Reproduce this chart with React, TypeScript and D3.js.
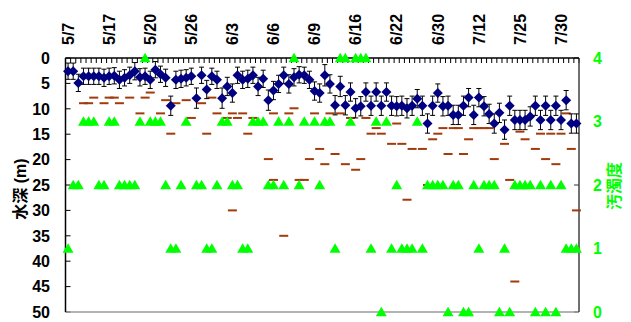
import React from "react";
import * as d3 from "d3";

// ---- data ----
const tickLabels = ["5/7", "5/17", "5/20", "5/26", "6/3", "6/6", "6/9", "6/16", "6/22", "6/30", "7/12", "7/25", "7/30"];
const tickEvery = 8;
const categories: number[] = d3.range(100);

// mean depth (m)
const depthMean: number[] = [
  2.6, 2.6, 4.9, 3.6, 3.6, 3.6, 3.6, 3.9, 3.6, 3.5,
  4.3, 3.9, 3.4, 2.6, 3.8, 3.6, 4.3, 2.3, 3.2, 3.9,
  9.4, 4.3, 4.1, 3.9, 3.6, 7.9, 3.4, 6.2, 3.6, 4.3,
  7.9, 5.6, 6.9, 3.4, 4.3, 4.1, 3.4, 5.6, 4.1, 8.3,
  6.4, 5.1, 3.4, 5.1, 3.8, 3.3, 3.4, 4.3, 6.5, 6.9,
  3.4, 5.1, 9.3, 5.6, 9.3, 6.7, 9.9, 9.5, 6.7, 9.4,
  6.7, 9.4, 6.7, 9.4, 9.5, 9.4, 9.9, 9.4, 8.0, 9.4,
  12.9, 9.4, 6.9, 9.5, 9.4, 11.2, 11.2, 9.4, 7.8, 11.2,
  7.8, 9.5, 11.0, 12.9, 10.8, 14.1, 9.4, 12.2, 12.2, 12.2,
  11.5, 9.4, 12.2, 9.4, 12.2, 9.4, 12.2, 8.3, 12.9, 12.9,
];

// error (m)
const depthErr: number[] = [
  1.6, 1.6, 1.7, 1.6, 1.6, 1.6, 1.6, 1.7, 1.6, 1.6,
  1.7, 1.6, 1.6, 1.7, 1.7, 1.6, 1.7, 1.6, 1.6, 1.7,
  1.9, 1.7, 1.7, 1.6, 1.6, 2.0, 1.6, 1.8, 1.6, 1.7,
  2.0, 1.8, 1.8, 1.6, 1.7, 1.7, 1.6, 1.8, 1.7, 2.0,
  1.8, 1.7, 1.6, 1.8, 1.7, 1.6, 1.6, 1.7, 1.8, 1.8,
  2.1, 1.8, 1.9, 2.0, 1.9, 1.8, 1.9, 1.9, 1.8, 1.9,
  1.8, 1.9, 1.8, 1.9, 1.9, 1.9, 1.9, 1.9, 1.8, 1.9,
  1.9, 1.9, 1.8, 1.9, 1.9, 1.9, 1.9, 1.9, 1.8, 1.9,
  1.8, 1.9, 1.9, 1.9, 1.9, 1.9, 1.9, 1.9, 1.9, 1.9,
  1.9, 1.9, 1.9, 1.9, 1.9, 1.9, 1.9, 1.9, 1.9, 1.9,
];

// secondary depth marks (m)
const depthMark: (number | null)[] = [
  null, null, null, 8.9, 8.9, 7.8, null, 8.9, 7.8, 7.8,
  8.9, null, 7.8, null, 10.9, 7.8, 6.8, null, 10.9, 8.3,
  14.9, 8.9, null, 8.3, 11.8, null, 8.9, 14.9, 7.8, 10.9,
  null, 11.8, 30, 11.8, 10.9, 14.9, 11.8, null, null, 19.9,
  24, null, 35, 10.9, 9.9, 24, 24, 19.9, 10.9, 17.9,
  20.9, 10.9, 18.9, 10.9, 20.9, 11.8, 22, 19.9, 11.8, 14.9,
  13.8, 14.9, null, 16.9, 12.9, 16.9, 27.9, 17.9, null, 17.9,
  25, 16, 14.9, 13.8, 18.9, 13.8, 13.8, 18.9, 16, 13.8,
  13.8, 13.8, 13.8, 19.9, null, 16.9, 24, 44, 14.5, 16,
  null, 17.9, 14.9, 19.9, 14.9, 20.9, 14.9, 10.9, 17.9, 30,
];

// additional marks on a few dates (m)
const depthMark2: (number | null)[] = [
  null, null, null, null, null, null, null, null, null, null,
  null, null, null, null, null, null, null, null, null, null,
  null, null, null, null, null, null, null, null, null, null,
  null, null, 10.9, null, null, null, null, null, null, null,
  10.9, null, null, null, null, null, null, null, null, null,
  null, null, null, null, null, null, null, null, null, null,
  null, null, null, null, null, null, null, null, null, null,
  null, null, null, null, null, null, null, null, null, null,
  null, null, null, null, null, null, null, null, null, null,
  null, null, null, null, null, null, null, null, null, null,
];

// pollution degree (0-4)
const pollution: (number | null)[] = [
  1, 2, 2, 3, 3, 3, 2, 2, 3, 3,
  2, 2, 2, 2, 3, 4, 3, 3, 3, 2,
  1, 1, 2, 3, null, 2, 2, 1, 1, 2,
  3, 3, 2, 2, 1, 1, 3, 3, 3, 2,
  2, 3, 2, 3, 4, 2, 3, null, 3, 2,
  3, 3, 1, 4, 4, 3, 4, 4, 4, 1,
  3, 0, 3, 1, 2, 1, 1, 1, 3, 1,
  2, 2, 2, 2, 0, 2, 2, 0, 0, 2,
  1, 2, 2, 2, 0, 1, 0, 2, 2, 2,
  2, 0, 2, 0, 2, 0, 2, 1, 1, 1,
];

const leftTicks = [0, 5, 10, 15, 20, 25, 30, 35, 40, 45, 50];
const rightTicks = [0, 1, 2, 3, 4];

// ---- layout ----
const W = 631;
const H = 322;
const L = 65.5;
const R = 579;
const T = 58;
const B = 312;
const FONT = "'Liberation Sans', Arial, 'Noto Sans CJK JP', sans-serif";
const GREEN = "#00ff00";
const NAVY = "#000080";
const BROWN = "#a33a0c";

export default function App() {
  const x = d3.scaleBand<number>().domain(categories).range([L, R]).padding(0);
  const cx = (i: number) => (x(i) as number) + x.bandwidth() / 2;
  const yL = d3.scaleLinear().domain([0, 50]).range([T, B]);
  const yR = d3.scaleLinear().domain([0, 4]).range([B, T]);
  const tri = d3.symbol().type(d3.symbolTriangle).size(52);

  const marks = [depthMark, depthMark2];

  return (
    <svg width={W} height={H} style={{ position: "absolute", left: 0, top: 0 }} fontFamily={FONT}>
      <rect x={0} y={0} width={W} height={H} fill="#fff" />

      {/* top category ticks */}
      {d3.range(categories.length + 1).map((k) => {
        const xx = L + k * x.step();
        return <line key={"tt" + k} x1={xx} x2={xx} y1={T} y2={T + 5} stroke="#000" strokeWidth={1} />;
      })}
      {/* top labels */}
      {tickLabels.map((lab, j) => {
        const i = j * tickEvery;
        const xx = cx(i);
        return (
          <text key={"tl" + j} transform={`translate(${xx},45) rotate(-90)`} dy="0.36em" fontSize={16} fontWeight="bold" fill="#000">
            {lab}
          </text>
        );
      })}

      {/* left axis ticks + labels */}
      {leftTicks.map((v) => (
        <g key={"lt" + v}>
          <line x1={L} x2={L + 5} y1={yL(v)} y2={yL(v)} stroke="#000" />
          <text x={50} y={yL(v)} dy="0.36em" textAnchor="end" fontSize={16} fontWeight="bold" fill="#000">
            {v}
          </text>
        </g>
      ))}
      {/* right axis ticks + labels */}
      {rightTicks.map((v) => (
        <g key={"rt" + v}>
          <line x1={R - 5} x2={R} y1={yR(v)} y2={yR(v)} stroke="#333" />
          <text x={593} y={yR(v)} dy="0.36em" textAnchor="start" fontSize={16} fontWeight="bold" fill={GREEN}>
            {v}
          </text>
        </g>
      ))}

      {/* axis lines */}
      <line x1={L} x2={R} y1={B} y2={B} stroke="#9a9a9a" strokeWidth={1.5} />
      <line x1={R} x2={R} y1={T} y2={B} stroke="#404040" strokeWidth={1.5} />
      <line x1={L} x2={L} y1={T} y2={B} stroke="#000" strokeWidth={1.5} />
      <line x1={L} x2={R} y1={T} y2={T} stroke="#000" strokeWidth={1.5} />

      {/* axis titles */}
      <text transform={`translate(20,189) rotate(-90)`} dy="0.35em" textAnchor="middle" fontSize={16} fontWeight="bold" fill="#000">
        水深 (m)
      </text>
      <text transform={`translate(614,186) rotate(-90)`} dy="0.35em" textAnchor="middle" fontSize={16} fontWeight="bold" fill={GREEN}>
        汚濁度
      </text>

      {/* secondary marks */}
      {marks.map((arr, s) =>
        arr.map((v, i) =>
          v == null ? null : (
            <line key={"dm" + s + "_" + i} x1={cx(i) - 4.5} x2={cx(i) + 4.5} y1={yL(v)} y2={yL(v)} stroke={BROWN} strokeWidth={2} />
          )
        )
      )}

      {/* error bars */}
      {depthMean.map((v, i) => {
        const e = depthErr[i];
        const xx = cx(i);
        return (
          <g key={"eb" + i} stroke="#000" strokeWidth={1}>
            <line x1={xx} x2={xx} y1={yL(v - e)} y2={yL(v + e)} />
            <line x1={xx - 2.5} x2={xx + 2.5} y1={yL(v - e)} y2={yL(v - e)} />
            <line x1={xx - 2.5} x2={xx + 2.5} y1={yL(v + e)} y2={yL(v + e)} />
          </g>
        );
      })}

      {/* diamonds */}
      {depthMean.map((v, i) => {
        const xx = cx(i);
        const yy = yL(v);
        return <path key={"dd" + i} d={`M${xx},${yy - 5}L${xx + 5},${yy}L${xx},${yy + 5}L${xx - 5},${yy}Z`} fill={NAVY} />;
      })}

      {/* triangles */}
      {pollution.map((v, i) =>
        v == null ? null : (
          <path key={"tr" + i} d={tri() as string} transform={`translate(${cx(i)},${yR(v) + 1})`} fill={GREEN} />
        )
      )}
    </svg>
  );
}
